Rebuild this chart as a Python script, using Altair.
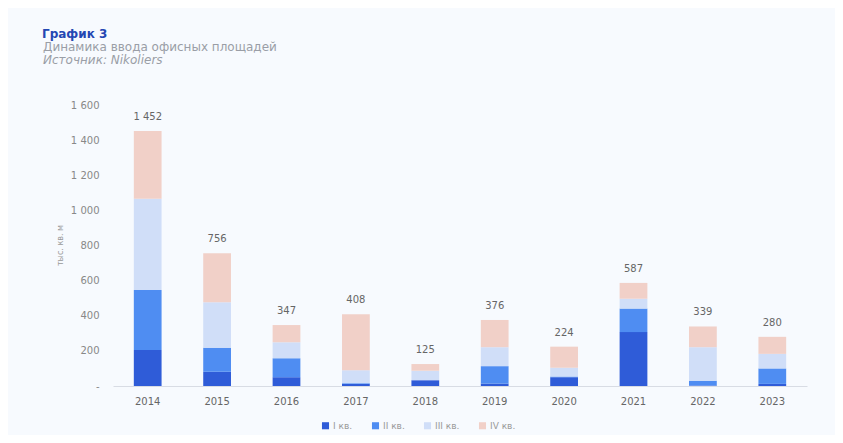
import altair as alt
import pandas as pd

years = ["2014", "2015", "2016", "2017", "2018", "2019", "2020", "2021", "2022", "2023"]
quarters = ["I кв.", "II кв.", "III кв.", "IV кв."]
q1 = [205, 81, 50, 12, 33, 14, 50, 307, 3, 12]
q2 = [342, 137, 108, 4, 0, 99, 4, 134, 27, 88]
q3 = [519, 259, 91, 74, 54, 108, 50, 56, 191, 83]
q4 = [386, 279, 98, 318, 38, 155, 120, 90, 118, 97]
totals = [1452, 756, 347, 408, 125, 376, 224, 587, 339, 280]
colors = ["#2F5CD8", "#4F8DF2", "#D0DEF8", "#F1D0C8"]

rows = []
for i, y in enumerate(years):
    for k, (q, vals) in enumerate(zip(quarters, [q1, q2, q3, q4])):
        rows.append({"year": y, "quarter": q, "order": k, "value": vals[i]})
df = pd.DataFrame(rows)

tot = pd.DataFrame({"year": years, "total": totals,
                    "label": [f"{t:,}".replace(",", " ") for t in totals]})

font = "DejaVu Sans"

x_axis = alt.Axis(labelAngle=0, labelFontSize=10, labelColor="#666666",
                  labelPadding=10, ticks=False, domainColor="#D8DCE4",
                  labelFont=font)
y_axis = alt.Axis(values=[0, 200, 400, 600, 800, 1000, 1200, 1400, 1600],
                  labelExpr="datum.value == 0 ? '-' : replace(format(datum.value, ','), ',', ' ')",
                  labelOverlap=False,
                  grid=False, domain=False, ticks=False, labelPadding=14,
                  labelFontSize=10, labelColor="#888888", labelFont=font,
                  title="тыс. кв. м", titleFontSize=8, titleFontWeight="normal",
                  titleColor="#999999", titleFont=font, titleAngle=-90,
                  titleX=-53, titleY=140, titleAlign="center", titleBaseline="middle")
x_scale = alt.Scale(paddingInner=0.6, paddingOuter=0.3)
y_scale = alt.Scale(domain=[0, 1600])

bars = alt.Chart(df).mark_bar().encode(
    x=alt.X("year:N", sort=years, title=None, scale=x_scale, axis=x_axis),
    y=alt.Y("value:Q", stack="zero", scale=y_scale, axis=y_axis),
    color=alt.Color("quarter:N", sort=quarters,
                    scale=alt.Scale(domain=quarters, range=colors),
                    legend=alt.Legend(title=None, orient="none", direction="horizontal",
                                      legendX=208, legendY=316, symbolType="square",
                                      symbolSize=50, symbolStrokeWidth=0,
                                      labelFontSize=9, labelColor="#999999",
                                      labelFont=font, columnPadding=18, labelOffset=3)),
    order=alt.Order("order:Q"),
)

labels = alt.Chart(tot).mark_text(dy=-9, fontSize=10, color="#666666", font=font,
                                  baseline="bottom").encode(
    x=alt.X("year:N", sort=years, title=None, scale=x_scale, axis=x_axis),
    y=alt.Y("total:Q", scale=y_scale, axis=y_axis),
    text="label:N",
)

t1 = alt.Chart(pd.DataFrame({"t": ["График 3"]})).mark_text(
    align="left", baseline="alphabetic", fontSize=12, fontWeight="bold",
    color="#2447B3", font=font).encode(x=alt.value(-71), y=alt.value(-67), text="t:N")
t2 = alt.Chart(pd.DataFrame({"t": ["Динамика ввода офисных площадей"]})).mark_text(
    align="left", baseline="alphabetic", fontSize=12,
    color="#9A9EA6", font=font).encode(x=alt.value(-70), y=alt.value(-54), text="t:N")
t3 = alt.Chart(pd.DataFrame({"t": ["Источник: Nikoliers"]})).mark_text(
    align="left", baseline="alphabetic", fontSize=12, fontStyle="italic",
    color="#9A9EA6", font=font).encode(x=alt.value(-70), y=alt.value(-41), text="t:N")

chart = alt.layer(bars, labels, t1, t2, t3).properties(
    width=694, height=281,
    autosize=alt.AutoSizeParams(type="none"),
    padding={"left": 105, "top": 97, "right": 28, "bottom": 49},
    background="#F7FAFE",
).configure_view(stroke=None).configure_axisY(labelOverlap=False)

chart.save("out.html", embed_options={"renderer": "svg", "actions": False})
